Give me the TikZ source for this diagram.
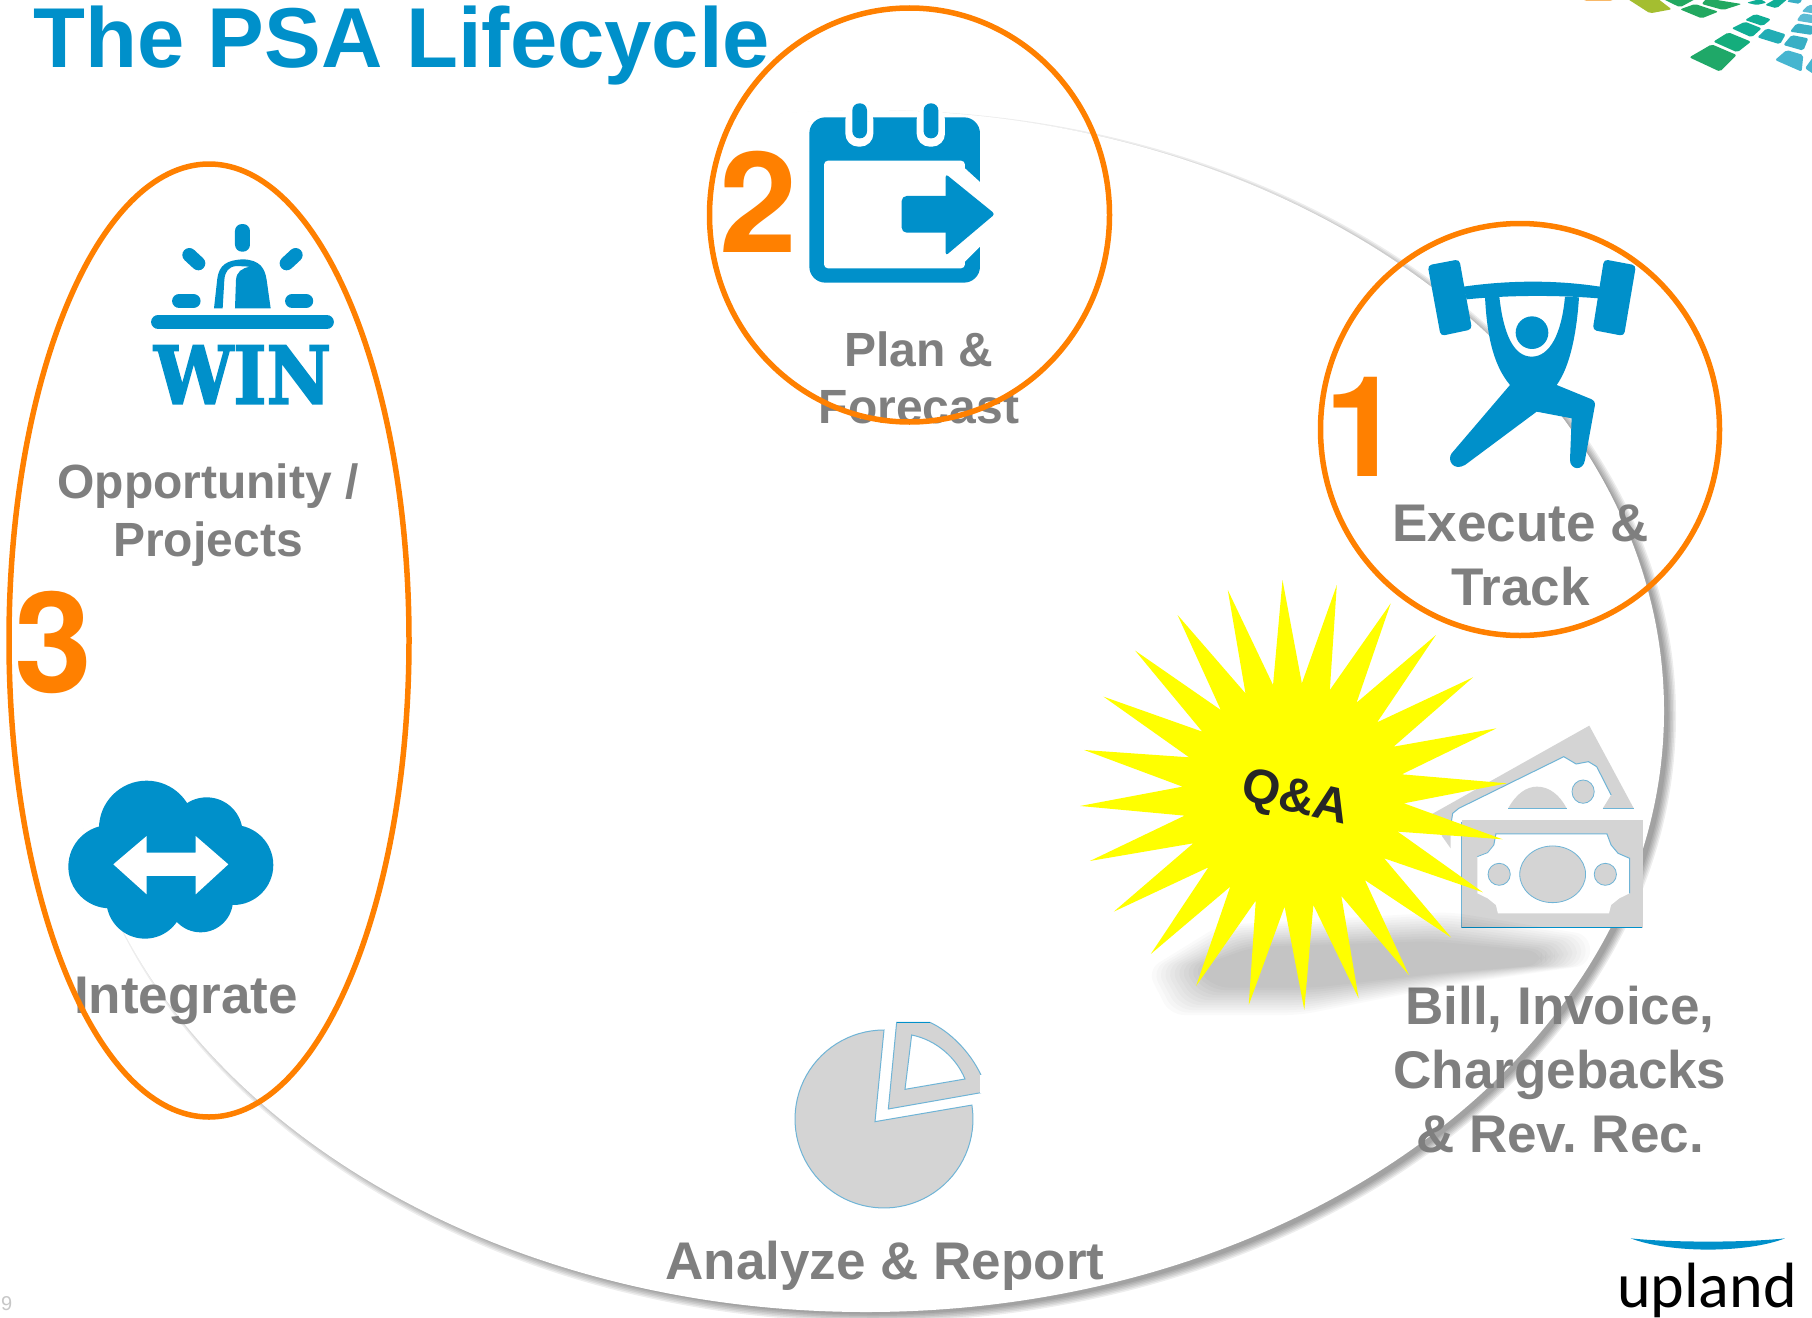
\documentclass[tikz,border=0pt]{standalone}
\usepackage{fontspec}
\usepackage{graphicx}
\setmainfont{Liberation Sans}
\newfontfamily\uplandfont{Carlito}
\newfontfamily\winfont[BoldFeatures={FakeBold=2.5}]{DejaVu Serif}
\newfontfamily\numfont{TeX Gyre Heros}
\definecolor{iconblue}{HTML}{0090CA}
\definecolor{ringorange}{HTML}{FF8000}
\definecolor{labelgray}{HTML}{7F7F7F}
\definecolor{iconfade}{HTML}{D4D4D4}
\definecolor{thinblue}{HTML}{6FB4D6}
\definecolor{staryellow}{RGB}{255,255,0}
\definecolor{tA}{HTML}{1FA868}
\definecolor{tB}{HTML}{14AD7C}
\definecolor{tC}{HTML}{10AE95}
\definecolor{tD}{HTML}{22ADB5}
\definecolor{tE}{HTML}{46B5D0}
\definecolor{tF}{HTML}{38AFC5}
\definecolor{tG}{HTML}{5ABBD4}
\definecolor{tH}{HTML}{A4BE30}
\definecolor{tI}{HTML}{F8B868}
\definecolor{tJ}{HTML}{22A860}
\tikzset{
  ring/.style={draw=ringorange,line width=5.5pt},
  icon/.style={fill=iconblue,draw=none},
  lifelabel/.style={text=labelgray,font=\bfseries,align=center,inner sep=0pt,anchor=base},
  bignum/.style={text=ringorange,font=\fontsize{140}{140}\selectfont\numfont\bfseries,inner sep=0pt,anchor=base},
  shadowlayer/.style={fill=black,fill opacity=0.07,draw=none},
  blobshadow/.style={fill=black,fill opacity=0.02,draw=none,rounded corners=14pt},
  fadeicon/.style={fill=iconfade,draw=none},
  tile/.style={draw=none,rounded corners=2pt},
}
\begin{document}
\begin{tikzpicture}[x=1pt,y=-1pt]
\useasboundingbox (0,0) rectangle (1812,1317);
\fill[white] (0,0) rectangle (1812,1317);

% ---- large soft-shadowed ellipse
\foreach \d in {5,3.5,2,0.5,-1,-2.5}{
  \fill[shadowlayer] (873,716) ellipse [x radius=798+\d, y radius=601+\d];
}
\fill[white] (866,711) ellipse [x radius=798, y radius=601];

% ---- top right tiles
\begin{scope}[shift={(1570,0)},x=.3333pt,y=-.3333pt]
  \fill[tile,fill=tA] (358,172)--(425,133)--(500,165)--(450,215)--cycle;
  \fill[tile,fill=tB] (430,125)--(475,97)--(543,125)--(502,157)--cycle;
  \fill[tile,fill=tC] (485,85)--(525,65)--(575,85)--(545,112)--cycle;
  \fill[tile,fill=tC] (525,60)--(555,42)--(603,58)--(578,78)--cycle;
  \fill[tile,fill=tD] (562,112)--(590,85)--(647,103)--(630,133)--cycle;
  \fill[tile,fill=tE] (615,180)--(650,150)--(700,165)--(695,215)--cycle;
  \fill[tile,fill=tF] (640,135)--(665,105)--(715,115)--(700,152)--cycle;
  \fill[tile,fill=tF] (660,95)--(680,70)--(730,78)--(726,105)--cycle;
  \fill[tile,fill=tG] (680,62)--(695,40)--(730,45)--(730,70)--cycle;
  \fill[tile,fill=tG] (695,35)--(715,15)--(730,15)--(730,40)--cycle;
  \fill[tile,fill=tE] (705,205)--(730,170)--(730,222)--cycle;
  \fill[tile,fill=tH] (170,-5)--(262,-5)--(305,28)--(240,40)--cycle;
  \fill[tile,fill=tJ] (275,-5)--(380,-5)--(330,22)--cycle;
  \fill[tile,fill=tJ] (330,28)--(375,12)--(445,35)--(395,55)--cycle;
  \fill[tile,fill=tJ] (410,-5)--(515,12)--(460,30)--(395,12)--cycle;
  \fill[tile,fill=tC] (530,8)--(570,-3)--(590,8)--(560,15)--cycle;
  \fill[tile,fill=tC] (585,15)--(620,-5)--(655,-5)--(620,25)--cycle;
  \fill[tile,fill=tF] (650,5)--(665,-5)--(697,-5)--(690,12)--cycle;
  \fill[tI] (30,-5)--(140,-5)--(120,3)--(50,3)--cycle;
\end{scope}

% ---- Win icon
\begin{scope}[shift={(130,200)},x=.3333pt,y=-.3333pt]
  \fill[icon,rounded corners=7pt] (315,72) rectangle (360,155);
  \draw[iconblue,line width=14pt,line cap=round] (178,165)--(205,190);
  \draw[iconblue,line width=14pt,line cap=round] (497,165)--(470,190);
  \draw[iconblue,line width=14.5pt,line cap=round] (148,303)--(190,303);
  \draw[iconblue,line width=14.5pt,line cap=round] (487,303)--(528,303);
  \draw[iconblue,line width=14.5pt,line cap=round] (85,366)--(590,366);
  \fill[icon] (252,325)--(262,235) .. controls (268,195) and (290,180) .. (340,178)
     .. controls (390,180) and (405,205) .. (410,240)--(422,325)--(315,325)--(318,240)
     .. controls (320,215) and (335,205) .. (360,200)--(320,198)
     .. controls (295,200) and (285,215) .. (283,240)--(278,325)--cycle;
  \node[inner sep=0pt,text=iconblue] (win) at (338,524)
     {\resizebox{177pt}{58pt}{\winfont\bfseries WIN}};
\end{scope}

% ---- Calendar icon
\begin{scope}[shift={(780,90)},x=.3333pt,y=-.3333pt]
  \fill[icon,rounded corners=16pt] (88,82) rectangle (600,578);
  \fill[white,rounded corners=4pt] (132,212) rectangle (555,535);
  \fill[white] (555,235)--(612,287)--(612,458)--(555,515)--cycle;
  \fill[white,rounded corners=13pt] (196,50) rectangle (280,170);
  \fill[white,rounded corners=13pt] (410,50) rectangle (495,170);
  \fill[icon,rounded corners=7pt] (217,40) rectangle (261,145);
  \fill[icon,rounded corners=7pt] (431,40) rectangle (475,145);
  \fill[icon,rounded corners=5pt] (365,318) rectangle (530,428);
  \fill[icon,rounded corners=3pt] (497,252)--(645,372)--(497,497)--cycle;
\end{scope}

% ---- Lifter icon
\begin{scope}[shift={(1400,240)},x=.3333pt,y=-.3333pt]
  \fill[icon,rounded corners=4pt] (83,76)--(178,58)--(216,268)--(122,288)--cycle;
  \fill[icon,rounded corners=4pt] (612,58)--(708,76)--(672,288)--(578,270)--cycle;
  \fill[icon] (190,140) .. controls (330,120) and (470,120) .. (600,140)--(595,175)
     .. controls (470,165) and (330,165) .. (200,178)--cycle;
  \fill[icon] (255,170) .. controls (260,270) and (275,370) .. (330,435)
     --(155,640) .. controls (140,660) and (160,695) .. (195,675)
     --(410,515)--(515,535)--(510,660) .. controls (510,690) and (550,695) .. (555,660)
     --(585,495) .. controls (585,485) and (580,480) .. (575,478)
     --(470,435) .. controls (510,380) and (530,280) .. (537,172)
     --(495,170) .. controls (485,280) and (450,350) .. (395,350)
     .. controls (340,350) and (310,280) .. (298,170)--cycle;
  \fill[icon] (396,278) circle [radius=49];
\end{scope}

% ---- Cloud icon
\begin{scope}[shift={(50,760)},x=.3333pt,y=-.3333pt]
  \fill[icon] (290,205) circle [radius=143];
  \fill[icon] (470,220) circle [radius=108];
  \fill[icon] (550,315) circle [radius=120];
  \fill[icon] (180,320) circle [radius=125];
  \fill[icon] (285,420) circle [radius=116];
  \fill[icon] (452,420) circle [radius=97];
  \fill[icon] (200,200) rectangle (520,420);
  \fill[white] (190,313)--(290,228)--(290,278)--(437,278)--(437,228)--(535,313)--(437,403)--(437,348)--(290,348)--(290,403)--cycle;
\end{scope}

% ---- Pie icon
\begin{scope}[shift={(760,980)},x=.3333pt,y=-.3333pt]
  \draw[fadeicon,draw=thinblue,line width=1pt]
    (345,425) -- plot[domain=90:369,samples=70] ({372+267*cos(\x)},{417-267*sin(\x)}) -- cycle;
  \draw[fadeicon,draw=thinblue,line width=1pt] (385,387)--(410,127)--(510,127)
    .. controls (570,155) and (630,215) .. (663,285)--(663,338)--cycle;
  \draw[iconblue,line width=1.2pt] (410,127)--(510,127);
  \draw[white,line width=1.5pt] (663,285)--(663,338);
  \draw[fill=white,draw=thinblue,line width=1pt] (435,328)--(455,165)
    .. controls (530,180) and (590,235) .. (615,297)--cycle;
\end{scope}

% ---- Money icon
\begin{scope}[shift={(1053.5,560)},x=.4115pt,y=-.3333pt]
  \fill[fadeicon] (920,762)--(1302,497)--(1410,745)--(1335,745)--(1355,705)--(1320,620)--(1300,605)--(1270,612)--(1240,590)--(985,745)--(970,760)--(965,800)--(965,865)--(945,830)--cycle;
  \draw[thinblue,line width=1pt] (1355,705)--(1320,620)--(1300,605)--(1270,612)--(1240,590)--(985,745)--(970,760)--(965,800);
  \fill[fadeicon] (1105,745) .. controls (1125,700) and (1150,680) .. (1175,680) .. controls (1205,680) and (1230,705) .. (1247,745)--cycle;
  \draw[thinblue,line width=1pt] (1105,745)--(1247,745);
  \draw[thinblue,line width=1pt] (1335,745)--(1410,745);
  \draw[fadeicon,draw=thinblue,line width=.8pt] (1287,695) ellipse [x radius=27, y radius=35];
  \fill[fadeicon] (992,780) rectangle (1433,1103);
  \draw[thinblue,line width=1pt] (992,785)--(992,1103);
  \draw[iconblue,line width=1.5pt] (992,1103)--(1430,1103);
  \fill[white] (1075,822)--(1345,822)--(1355,855)--(1372,880)--(1400,895)--(1400,1000)--(1375,1015)--(1355,1035)--(1350,1060)--(1080,1060)--(1075,1035)--(1055,1015)--(1030,1000)--(1030,890)--(1055,878)--(1070,855)--cycle;
  \draw[thinblue,line width=1pt] (1070,855)--(1075,822)--(1345,822)--(1355,855)--(1372,880)--(1400,895)--(1400,1000);
  \draw[thinblue,line width=.8pt] (1030,890)--(1055,878)--(1070,855);
  \draw[fadeicon,draw=thinblue,line width=.8pt] (1213,943) ellipse [x radius=80, y radius=85];
  \draw[fadeicon,draw=thinblue,line width=.8pt] (1083,943) ellipse [x radius=27, y radius=33];
  \draw[fadeicon,draw=thinblue,line width=.8pt] (1341,943) ellipse [x radius=27, y radius=33];
\end{scope}

% ---- labels
\node[lifelabel,font=\fontsize{48}{57}\selectfont\bfseries] (plan) at (919,423) {Plan \&\\Forecast};
\node[lifelabel,font=\fontsize{48}{58}\selectfont\bfseries] (opp) at (208,556.5) {Opportunity /\\Projects};
\node[lifelabel,font=\fontsize{53}{64}\selectfont\bfseries] (exec) at (1520.5,605.5) {Execute \&\\Track};
\node[lifelabel,font=\fontsize{53}{64}\selectfont\bfseries] (integ) at (186,1013) {Integrate};
\node[lifelabel,font=\fontsize{53}{64}\selectfont\bfseries] (bill) at (1560,1152.5) {Bill, Invoice,\\Chargebacks\\\& Rev.\ Rec.};
\node[lifelabel,font=\fontsize{53}{64}\selectfont\bfseries] (analyze) at (885,1279.5) {Analyze \& Report};

% ---- blurred shadow patch
\foreach \k in {0,...,11}{
  \begin{scope}[shift={(1370,965)},xscale=1-0.02*\k,yscale=1-0.05*\k]
    \fill[blobshadow] (-223,5)--(-150,-40)--(80,-53)--(220,-30)--(220,0)--(80,20)--(-70,50)--(-200,50)--cycle;
  \end{scope}
}

% ---- Q&A star
\begin{scope}[shift={(1050,560)},x=.4115pt,y=-.3333pt]
  \fill[staryellow] (565,60)--(612,370)--(697,75)--(680,390)--(828,130)--(745,428)--(938,225)--(795,487)--(1028,352)--(835,560)--(1085,505)--(855,643)--(1110,670)--(860,730)--(1100,838)--(845,815)--(1052,997)--(812,895)--(975,1133)--(765,960)--(872,1245)--(708,1008)--(750,1315)--(640,1035)--(618,1350)--(570,1040)--(483,1335)--(500,1022)--(355,1278)--(438,980)--(245,1182)--(385,922)--(155,1055)--(348,850)--(97,903)--(327,767)--(73,738)--(322,680)--(83,570)--(338,592)--(130,410)--(370,515)--(207,272)--(415,450)--(310,165)--(475,400)--(432,90)--(542,375)--cycle;
\end{scope}
\node[rotate=-13,inner sep=0pt,text=black!85,font=\fontsize{49}{49}\selectfont\bfseries] (qa) at (1295,800) {Q\&A};

% ---- orange rings and numbers
\draw[ring] (1520,429.5) ellipse [x radius=199.5, y radius=206];
\draw[ring] (909.5,215) ellipse [x radius=200, y radius=207];
\draw[ring] (209,640.5) ellipse [x radius=200, y radius=476.5];
\node[bignum] (num1) at (1363,476) {1};
\node[bignum] (num2) at (758,252) {2};
\node[bignum] (num3) at (53,692) {3};

% ---- title, page number, logo
\node[inner sep=0pt,anchor=base west,text=iconblue,font=\fontsize{85}{85}\selectfont\bfseries] (title) at (33,67) {The PSA Lifecycle};
\node[inner sep=0pt,anchor=base west,text=black!22,font=\fontsize{20}{20}\selectfont] (page) at (1,1310) {9};
\begin{scope}[shift={(1560,1200)},x=.3333pt,y=-.3333pt]
  \fill[iconblue] (212,115) .. controls (330,128) and (560,128) .. (675,115) .. controls (560,160) and (330,160) .. cycle;
\end{scope}
\node[inner sep=0pt,anchor=base,text=black,font=\fontsize{64}{64}\selectfont\uplandfont] (logo) at (1707,1307) {upland};
\end{tikzpicture}
\end{document}
